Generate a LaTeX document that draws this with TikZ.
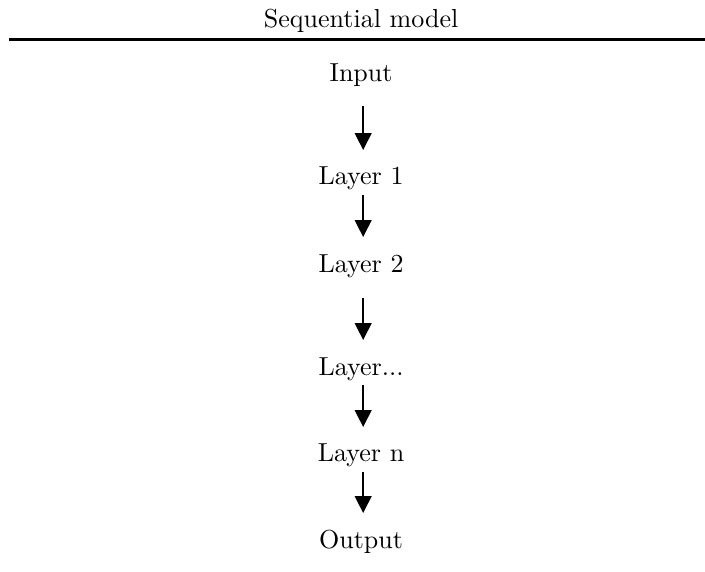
\documentclass[tikz,border=0pt]{standalone}
\usetikzlibrary{arrows.meta}
\begin{document}
\begin{tikzpicture}[x=1pt,y=1pt,
  lbl/.style={anchor=base,inner sep=0pt},
  arr/.style={line width=0.8pt,-{Triangle[length=6.5pt,width=6.4pt]}}]
\useasboundingbox (0,0) rectangle (271,-219.5);
\node[lbl] (title) at (138.8,-10.76) {Sequential model};
\coordinate (rl) at (3.46,-15.2);
\coordinate (rr) at (271,-15.2);
\draw[line width=0.95pt] (rl) -- (rr);
\node[lbl] (in) at (138.8,-31.52) {Input};
\node[lbl] (l1) at (138.8,-71.11) {Layer 1};
\node[lbl] (l2) at (138.8,-104.56) {Layer 2};
\node[lbl] (l3) at (138.8,-144.15) {Layer...};
\node[lbl] (ln) at (138.8,-177.59) {Layer n};
\node[lbl] (out) at (138.8,-210.65) {Output};
\draw[arr] ([shift={(0.8,-9.2)}]in.base) -- ([shift={(0.8,13.45)}]l1.base);
\draw[arr] ([shift={(0.8,-3.84)}]l1.base) -- ([shift={(0.8,13.45)}]l2.base);
\draw[arr] ([shift={(0.8,-10.0)}]l2.base) -- ([shift={(0.8,13.45)}]l3.base);
\draw[arr] ([shift={(0.8,-3.84)}]l3.base) -- ([shift={(0.8,13.45)}]ln.base);
\draw[arr] ([shift={(0.8,-3.84)}]ln.base) -- ([shift={(0.8,13.45)}]out.base);
\end{tikzpicture}
\end{document}
